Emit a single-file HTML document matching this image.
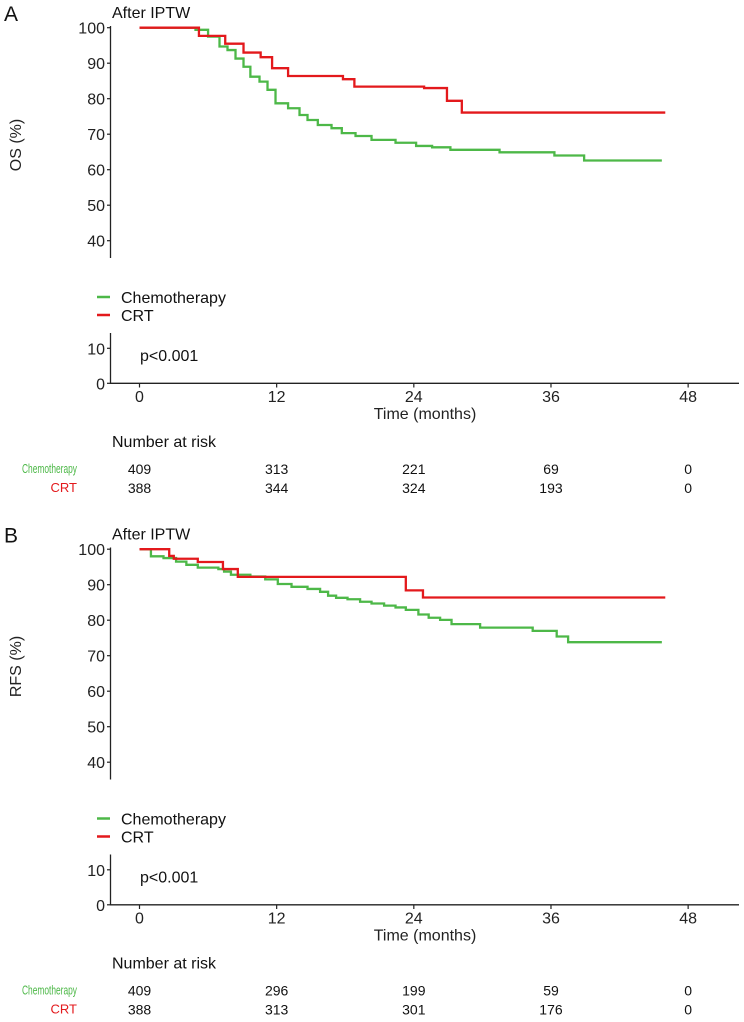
<!DOCTYPE html>
<html><head><meta charset="utf-8"><style>
html,body{margin:0;padding:0;background:#fff;}
svg{display:block;font-family:"Liberation Sans",Arial,sans-serif;}
</style></head><body>
<svg id="chart" width="744" height="1022" viewBox="0 0 744 1022" xmlns="http://www.w3.org/2000/svg"></svg>
<script>
// ---- data ----
const xTicks = [0, 12, 24, 36, 48];
const yTicksTop = [40, 50, 60, 70, 80, 90, 100];
const yTicksBottom = [0, 10];
const osChemoT = [0,3.2,4.9,6.0,7.0,7.7,8.4,9.1,9.7,10.5,11.2,11.9,13.0,14.0,14.7,15.6,16.8,17.7,18.9,20.3,22.4,24.2,25.6,27.2,31.5,36.3,38.9];
const osChemoS = [100,100,99.4,97.5,94.7,93.7,91.3,89.0,86.2,84.8,82.5,78.7,77.3,75.4,74.0,72.6,71.7,70.3,69.5,68.4,67.6,66.7,66.3,65.6,64.9,64.0,62.6];
const osChemoEnd = 45.7;
const osCrtT = [0,5.2,7.5,9.1,10.6,11.6,13.0,17.8,18.8,24.9,26.9,28.2];
const osCrtS = [100,97.7,95.5,93.0,91.7,88.6,86.4,85.5,83.4,83.0,79.4,76.1];
const osCrtEnd = 46.0;
const rfsChemoT = [0,1.0,2.1,3.2,4.1,5.1,6.9,7.4,8.0,9.7,11.0,12.1,13.3,14.7,15.8,16.5,17.2,18.2,19.3,20.3,21.4,22.4,23.3,24.4,25.3,26.3,27.3,29.8,34.4,36.5,37.5];
const rfsChemoS = [100,98.0,97.5,96.5,95.6,94.8,94.4,93.7,92.8,92.3,91.5,90.2,89.4,88.8,88.0,86.9,86.3,85.9,85.2,84.7,84.1,83.6,82.9,81.6,80.7,80.1,78.9,77.9,77.0,75.4,73.8];
const rfsChemoEnd = 45.7;
const rfsCrtT = [0,2.6,3.0,5.1,7.3,8.6,23.3,24.8];
const rfsCrtS = [100,98.1,97.3,96.4,94.4,92.2,88.4,86.4];
const rfsCrtEnd = 46.0;
const riskChemoA = [409,313,221,69,0];
const riskCrtA = [388,344,324,193,0];
const riskChemoB = [409,296,199,59,0];
const riskCrtB = [388,313,301,176,0];

const GREEN = '#4db848', RED = '#e3191c';
const svg = document.getElementById('chart');
const NS = 'http://www.w3.org/2000/svg';
function mk(tag, attrs, parent){
  const e = document.createElementNS(NS, tag);
  for (const k in attrs) e.setAttribute(k, attrs[k]);
  (parent||svg).appendChild(e); return e;
}
function txt(s, x, y, size, anchor, fill, parent){
  const t = mk('text', {x:x, y:y, 'font-size':size, 'text-anchor':anchor||'start', fill:fill||'#111'}, parent);
  t.textContent = s; return t;
}
const X0 = 139.5, PXM = 11.43;
const xs = m => X0 + m*PXM;

function panel(off, letter, ylab, cT, cS, cEnd, rT, rS, rEnd, riskC, riskR){
  const g = mk('g', {});
  
  
  const ysTop = v => off + 27.7 + (100 - v)*3.55;
  const ysBot = v => off + 383.3 - v*3.5;
  const l = txt(letter, 4, off + 21, 21, 'start', '#111', g);
   
  const st = txt('After IPTW', 112, off + 18, 16, 'start', '#111', g);
   
  const ya = mk('line', {x1:110.5, y1:off+26, x2:110.5, y2:off+258, stroke:'#222','stroke-width':1.3}, g);
   
  yTicksTop.forEach(v => {
    const y = ysTop(v);
    mk('line', {x1:107, y1:y, x2:111, y2:y, stroke:'#222','stroke-width':1.2}, g);
    const t = txt(String(v), 105, y + 6, 16, 'end', '#222', g);
     
  });
  const yt = txt(ylab, 0, 0, 16, 'middle', '#222', g);
  yt.setAttribute('transform', `translate(21,${off+145}) rotate(-90)`);
   
  const yb = mk('line', {x1:110.5, y1:off+333, x2:110.5, y2:off+384, stroke:'#222','stroke-width':1.3}, g);
   
  yTicksBottom.forEach(v => {
    const y = ysBot(v);
    mk('line', {x1:107, y1:y, x2:111, y2:y, stroke:'#222','stroke-width':1.2}, g);
    txt(String(v), 105, y + 6, 16, 'end', '#222', g);
  });
  const xa = mk('line', {x1:110, y1:off+383.3, x2:739, y2:off+383.3, stroke:'#222','stroke-width':1.3}, g);
   
  xTicks.forEach(m => {
    const x = xs(m);
    mk('line', {x1:x, y1:off+383.3, x2:x, y2:off+387.5, stroke:'#222','stroke-width':1.2}, g);
    const t = txt(String(m), x, off + 402, 16, 'middle', '#222', g);
     
  });
  const xt = txt('Time (months)', 425, off + 419, 16, 'middle', '#222', g);
   
  const pv = txt('p<0.001', 140, off + 361, 16, 'start', '#111', g);
   
  [[GREEN,'Chemotherapy',297],[RED,'CRT',315]].forEach(([c,s,y]) => {
    const lg = mk('g', {}, g);
    
    
    mk('line', {x1:97, y1:off+y, x2:110, y2:off+y, stroke:c,'stroke-width':2.5}, lg);
    txt(s, 121, off + y + 6, 16, 'start', '#111', lg);
  });
  function stepPath(T, S, end){
    let d = `M${xs(T[0])},${ysTop(S[0])}`;
    for (let i = 1; i < T.length; i++) d += ` H${xs(T[i])} V${ysTop(S[i])}`;
    d += ` H${xs(end)}`;
    return d;
  }
  const gc = mk('path', {d:stepPath(cT,cS,cEnd), fill:'none', stroke:GREEN, 'stroke-width':2.3}, g);
   
  const rc = mk('path', {d:stepPath(rT,rS,rEnd), fill:'none', stroke:RED, 'stroke-width':2.3}, g);
   
  const nr = txt('Number at risk', 112, off + 447, 16, 'start', '#111', g);
   
  const lc = txt('Chemotherapy', 77, off + 473, 13, 'end', GREEN, g);
  lc.setAttribute('textLength', '55'); lc.setAttribute('lengthAdjust', 'spacingAndGlyphs');
   
  const lr = txt('CRT', 77, off + 492, 13, 'end', RED, g);
   
  riskC.forEach((v,i) => {
    const t = txt(String(v), xs(xTicks[i]), off + 474, 14, 'middle', '#111', g);
     
  });
  riskR.forEach((v,i) => {
    const t = txt(String(v), xs(xTicks[i]), off + 493, 14, 'middle', '#111', g);
     
  });
}
panel(0, 'A', 'OS (%)', osChemoT, osChemoS, osChemoEnd, osCrtT, osCrtS, osCrtEnd, riskChemoA, riskCrtA);
panel(521.5, 'B', 'RFS (%)', rfsChemoT, rfsChemoS, rfsChemoEnd, rfsCrtT, rfsCrtS, rfsCrtEnd, riskChemoB, riskCrtB);
</script>
</body></html>
